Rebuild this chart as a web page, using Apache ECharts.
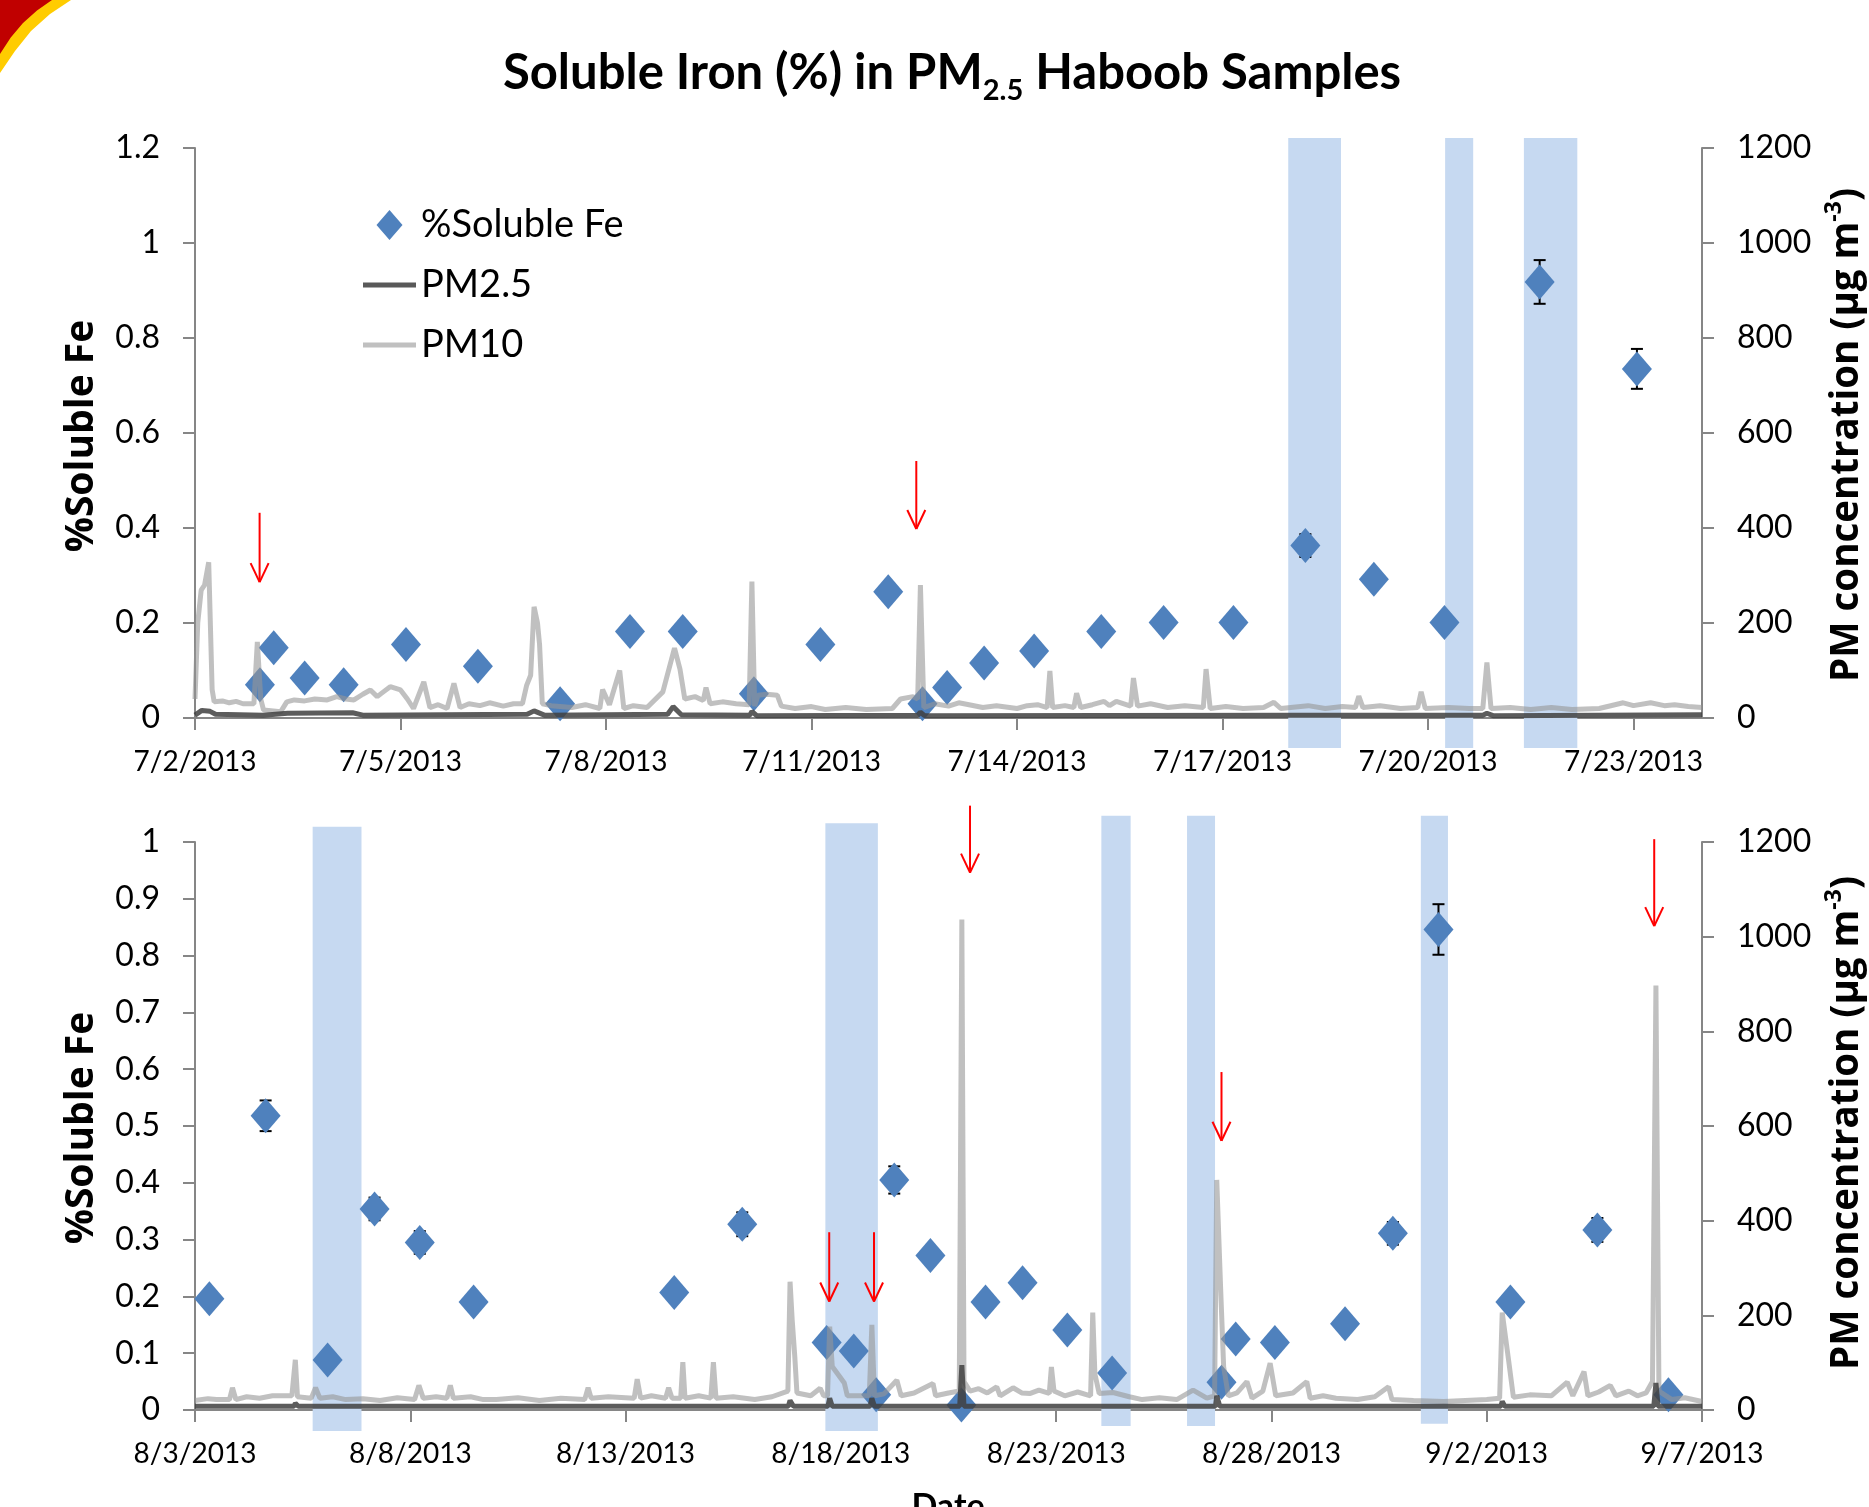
<!DOCTYPE html>
<html><head><meta charset="utf-8">
<script src="https://cdn.jsdelivr.net/npm/echarts@6/dist/echarts.min.js"></script>
<style>html,body{margin:0;padding:0;background:#fff}#c{width:1869px;height:1507px}</style>
</head><body><div id="c"></div>
<script>
// ---------- DATA ----------
const topStart = '2013-07-02T00:00';
const botStart = '2013-08-03T00:00';
const topTickLabels = ['7/2/2013','7/5/2013','7/8/2013','7/11/2013','7/14/2013','7/17/2013','7/20/2013','7/23/2013'];
const botTickLabels = ['8/3/2013','8/8/2013','8/13/2013','8/18/2013','8/23/2013','8/28/2013','9/2/2013','9/7/2013'];

const topSampleTimes = ['2013-07-02T22:45','2013-07-03T03:35','2013-07-03T14:25','2013-07-04T04:05','2013-07-05T01:55','2013-07-06T03:07','2013-07-07T07:55','2013-07-08T08:24','2013-07-09T02:53','2013-07-10T03:50','2013-07-11T03:07','2013-07-12T02:53','2013-07-12T14:53','2013-07-12T23:31','2013-07-13T12:29','2013-07-14T06:00','2013-07-15T05:31','2013-07-16T03:22','2013-07-17T03:50','2013-07-18T05:02','2013-07-19T05:02','2013-07-20T05:46','2013-07-21T15:07','2013-07-23T01:12'];
const topFe =    [0.070,0.148,0.084,0.070,0.155,0.109,0.030,0.182,0.182,0.051,0.155,0.266,0.030,0.064,0.116,0.141,0.182,0.201,0.201,0.363,0.292,0.201,0.918,0.735];
const topFeErr = [0,0,0,0,0,0,0,0,0,0,0,0.015,0,0,0,0,0,0,0,0.024,0,0,0.046,0.042];

const botSampleTimes = ['2013-08-03T08:01','2013-08-04T15:22','2013-08-06T01:55','2013-08-07T04:05','2013-08-08T05:17','2013-08-09T11:17','2013-08-14T03:07','2013-08-15T17:02','2013-08-17T16:05','2013-08-18T07:12','2013-08-18T19:41','2013-08-19T05:46','2013-08-20T01:55','2013-08-20T19:12','2013-08-21T08:38','2013-08-22T05:17','2013-08-23T06:14','2013-08-24T07:12','2013-08-26T20:10','2013-08-27T04:05','2013-08-28T01:55','2013-08-29T17:02','2013-08-30T19:41','2013-08-31T21:07','2013-09-02T13:12','2013-09-04T13:41','2013-09-06T05:17'];
const botFe =    [0.196,0.518,0.088,0.354,0.295,0.190,0.207,0.327,0.119,0.104,0.027,0.405,0.272,0.009,0.190,0.224,0.141,0.065,0.049,0.125,0.119,0.152,0.311,0.846,0.190,0.317,0.027];
const botFeErr = [0,0.027,0,0.02,0.02,0,0,0.021,0,0,0,0.024,0,0,0,0,0,0,0,0,0,0,0.02,0.0445,0,0.021,0];

// haboob shading: [start, end, yLow, yHigh]
const topBands = [['2013-07-17T23:02','2013-07-18T17:31',-0.063,1.221],['2013-07-20T06:00','2013-07-20T15:50',-0.063,1.221],['2013-07-21T09:36','2013-07-22T04:19',-0.063,1.221]];
const botBands = [['2013-08-05T17:35','2013-08-06T20:48',-0.037,1.027],['2013-08-17T15:22','2013-08-18T20:38',-0.037,1.033],['2013-08-24T01:12','2013-08-24T17:31',-0.028,1.046],['2013-08-26T00:58','2013-08-26T16:34',-0.028,1.046],['2013-08-31T11:17','2013-09-01T02:24',-0.024,1.046]];

// red arrows: [time, yFrom, yTo]
const topArrows = [['2013-07-02T22:38',0.432,0.286],['2013-07-12T12:43',0.541,0.398]];
const botArrows = [['2013-08-17T17:31',0.313,0.191],['2013-08-18T18:29',0.313,0.191],['2013-08-21T00:00',1.064,0.946],['2013-08-26T20:10',0.595,0.474],['2013-09-05T21:22',1.005,0.852]];

// PM concentrations [days since start, ug/m3]
const pm10Top = [[0,40],[0.04,200],[0.09,269],[0.14,280],[0.2,328],[0.25,60],[0.28,34],[0.4,36],[0.5,32],[0.6,35],[0.7,30],[0.86,30],[0.91,160],[0.96,40],[1.0,17],[1.25,13],[1.34,34],[1.45,38],[1.6,36],[1.75,40],[1.93,38],[2.07,45],[2.2,40],[2.32,38],[2.45,50],[2.56,59],[2.66,45],[2.75,55],[2.85,66],[3.0,59],[3.1,40],[3.19,20],[3.34,76],[3.43,22],[3.55,28],[3.68,20],[3.78,73],[3.87,22],[4.0,30],[4.16,26],[4.3,32],[4.5,25],[4.65,30],[4.78,30],[4.84,68],[4.9,90],[4.95,234],[5.0,200],[5.03,155],[5.07,30],[5.2,26],[5.5,22],[5.7,28],[5.91,20],[5.95,60],[6.05,28],[6.2,100],[6.26,20],[6.4,26],[6.6,22],[6.83,55],[7.0,147],[7.08,103],[7.15,40],[7.3,45],[7.42,37],[7.46,64],[7.52,30],[7.7,34],[7.9,30],[8.09,28],[8.13,287],[8.17,25],[8.22,48],[8.35,50],[8.5,48],[8.56,25],[8.76,20],[9.0,24],[9.2,18],[9.5,22],[9.8,18],[10.18,20],[10.3,40],[10.48,45],[10.55,40],[10.59,280],[10.64,22],[10.8,30],[11.0,25],[11.15,32],[11.3,28],[11.5,22],[11.7,26],[12.0,20],[12.15,26],[12.3,28],[12.44,22],[12.48,99],[12.52,22],[12.7,26],[12.83,22],[12.87,52],[12.93,22],[13.1,28],[13.27,35],[13.35,26],[13.45,35],[13.66,25],[13.7,84],[13.76,25],[13.95,30],[14.2,22],[14.45,26],[14.72,22],[14.76,103],[14.82,20],[15.05,24],[15.3,20],[15.6,22],[15.75,33],[15.85,20],[16.25,26],[16.5,20],[16.75,24],[16.94,22],[16.99,46],[17.05,22],[17.3,26],[17.6,20],[17.85,22],[17.9,55],[17.96,20],[18.3,22],[18.6,20],[18.8,20],[18.86,117],[18.92,20],[19.2,22],[19.5,18],[19.8,22],[20.1,18],[20.5,20],[20.85,32],[21.0,26],[21.25,32],[21.45,26],[21.6,28],[21.8,24],[22,22]];
const pm25Top = [[0,6],[0.1,16],[0.22,14],[0.3,8],[1.0,6],[1.35,10],[2.3,11],[2.45,6],[4.85,8],[4.95,15],[5.1,6],[6.9,8],[6.98,24],[7.1,7],[8.1,6],[8.13,14],[8.2,5],[10.55,6],[10.59,12],[10.65,5],[16,6],[18.8,6],[18.86,10],[18.95,5],[22,7]];
const pm10Bot = [[0,20],[0.3,24],[0.5,22],[0.8,22],[0.87,47],[0.95,22],[1.2,28],[1.5,25],[1.8,30],[2.25,30],[2.33,106],[2.38,28],[2.7,25],[2.8,47],[2.9,25],[3.2,28],[3.5,22],[3.9,24],[4.3,20],[4.7,26],[5.1,22],[5.2,52],[5.3,25],[5.6,28],[5.85,25],[5.93,52],[6.0,25],[6.4,28],[6.7,22],[7.0,22],[7.5,26],[8.0,20],[8.5,25],[9.05,22],[9.13,47],[9.2,25],[9.6,28],[10.2,25],[10.27,65],[10.35,25],[10.6,30],[10.93,25],[11.0,47],[11.08,25],[11.28,25],[11.33,101],[11.38,25],[11.7,30],[11.98,25],[12.04,101],[12.1,25],[12.5,28],[13.0,22],[13.4,28],[13.77,40],[13.82,271],[13.87,190],[13.93,113],[13.98,36],[14.3,30],[14.52,46],[14.6,30],[14.69,30],[14.74,176],[14.8,92],[15.08,57],[15.15,30],[15.66,30],[15.72,180],[15.78,30],[16.0,34],[16.3,63],[16.4,30],[16.7,36],[17.14,56],[17.2,30],[17.5,36],[17.75,40],[17.81,1036],[17.86,60],[18.0,40],[18.2,45],[18.4,36],[18.62,49],[18.7,30],[19.0,47],[19.2,36],[19.4,35],[19.6,42],[19.84,35],[19.89,91],[19.95,40],[20.2,30],[20.5,38],[20.8,30],[20.85,206],[20.9,76],[21.0,35],[21.32,37],[21.7,28],[22.0,22],[22.4,26],[22.8,22],[23.18,42],[23.5,25],[23.68,30],[23.73,486],[23.82,257],[23.89,91],[24.0,30],[24.2,36],[24.43,60],[24.55,25],[24.8,40],[24.97,99],[25.1,30],[25.5,36],[25.82,60],[25.9,25],[26.2,30],[26.5,25],[27.0,22],[27.4,28],[27.72,49],[27.8,22],[28.3,20],[29.0,18],[29.5,20],[30.0,22],[30.3,25],[30.36,206],[30.5,111],[30.62,27],[31.0,32],[31.5,30],[31.87,59],[32.0,30],[32.26,81],[32.35,30],[32.6,38],[32.87,52],[33.0,30],[33.3,40],[33.5,30],[33.7,36],[33.85,60],[33.93,897],[34.0,40],[34.3,22],[34.6,26],[35,18]];
const pm25Bot = [[0,8],[2.3,8],[2.33,14],[2.4,8],[13.78,8],[13.82,20],[13.9,8],[14.7,8],[14.74,25],[14.8,8],[15.68,8],[15.72,25],[15.78,8],[17.76,8],[17.81,95],[17.86,8],[23.7,8],[23.73,30],[23.8,8],[30.33,8],[30.36,18],[30.42,8],[33.88,8],[33.93,57],[33.98,8],[35,8]];

// ---------- helpers ----------
const dayOff = (t, base) => (Date.parse(t + ':00Z') - Date.parse(base + ':00Z')) / 864e5;
const feData = (times, vals, base) => times.map((t, i) => [dayOff(t, base), vals[i]]);
const errData = (times, vals, errs, base) => times.map((t, i) => [dayOff(t, base), vals[i], errs[i]]);
const bandData = (bands, base) => bands.map(b => [dayOff(b[0], base), dayOff(b[1], base), b[2], b[3]]);
const arrowData = (arr, base) => arr.map(a => [dayOff(a[0], base), a[1], a[2]]);

const FONT = 'Lato';
const TFONT = 'Open Sans';
const AXC = '#868686';
const BLUE = '#4f81bd';

function bandItem(params, api) {
  const p0 = api.coord([api.value(0), api.value(3)]);
  const p1 = api.coord([api.value(1), api.value(2)]);
  return { type: 'rect', shape: { x: p0[0], y: p0[1], width: p1[0] - p0[0], height: p1[1] - p0[1] }, style: { fill: '#c6d9f1' } };
}
function errItem(params, api) {
  const e = api.value(2);
  if (!e) return null;
  const a = api.coord([api.value(0), api.value(1) + e]);
  const b = api.coord([api.value(0), api.value(1) - e]);
  const st = { stroke: '#000', lineWidth: 2 };
  return { type: 'group', children: [
    { type: 'line', shape: { x1: a[0], y1: a[1], x2: b[0], y2: b[1] }, style: st },
    { type: 'line', shape: { x1: a[0] - 6, y1: a[1], x2: a[0] + 6, y2: a[1] }, style: st },
    { type: 'line', shape: { x1: b[0] - 6, y1: b[1], x2: b[0] + 6, y2: b[1] }, style: st }
  ]};
}
function arrowItem(params, api) {
  const a = api.coord([api.value(0), api.value(1)]);
  const b = api.coord([api.value(0), api.value(2)]);
  const st = { stroke: '#ff0000', lineWidth: 2, fill: null };
  return { type: 'group', children: [
    { type: 'line', shape: { x1: a[0], y1: a[1], x2: b[0], y2: b[1] }, style: st },
    { type: 'line', shape: { x1: b[0] - 9, y1: b[1] - 19, x2: b[0], y2: b[1] }, style: st },
    { type: 'line', shape: { x1: b[0] + 9, y1: b[1] - 19, x2: b[0], y2: b[1] }, style: st }
  ]};
}

function xAxisCfg(gi, max, interval, labels) {
  const vals = labels.map((_, i) => i * interval);
  return {
    gridIndex: gi, type: 'value', min: 0, max: max, interval: interval,
    axisLine: { lineStyle: { color: AXC, width: 2 } },
    axisTick: { length: 12, customValues: vals, lineStyle: { color: AXC, width: 2 } },
    axisLabel: { customValues: vals, margin: 30, fontSize: 28, fontFamily: FONT, color: '#000',
      formatter: v => labels[Math.round(v / interval)] || '' },
    splitLine: { show: false }
  };
}
function yAxisCfg(gi, max, interval, pos, dec) {
  return {
    gridIndex: gi, type: 'value', min: 0, max: max, interval: interval, position: pos,
    axisLine: { show: true, lineStyle: { color: AXC, width: 2 } },
    axisTick: { show: true, length: 12, lineStyle: { color: AXC, width: 2 } },
    axisLabel: { margin: 35, fontSize: 32, fontFamily: FONT, color: '#000',
      formatter: v => String(+v.toFixed(dec)) },
    splitLine: { show: false }
  };
}

const pmTitle = (y) => ({ type: 'text', x: 1845, y: y, rotation: Math.PI / 2, z: 10, style: {
  text: '{b|PM concentration (µg m}{p|-3}{b|)}', align: 'center', verticalAlign: 'middle',
  rich: { b: { fontSize: 38.5, fontWeight: 'bold', fontFamily: TFONT, fill: '#000', lineHeight: 44, verticalAlign: 'bottom' },
          p: { fontSize: 23, fontWeight: 'bold', fontFamily: TFONT, fill: '#000', lineHeight: 24, verticalAlign: 'top' } } } });
const feTitle = (y) => ({ type: 'text', x: 82, y: y, rotation: Math.PI / 2, z: 10, style: {
  text: '%Soluble Fe', align: 'center', verticalAlign: 'middle', font: 'bold 39px "Open Sans"', fill: '#000' } });

const chart = echarts.init(document.getElementById('c'), null, { renderer: 'canvas' });

const option = {
  animation: false,
  backgroundColor: '#fff',
  grid: [
    { left: 195, top: 148, width: 1507, height: 570 },
    { left: 195, top: 842, width: 1507, height: 568 }
  ],
  xAxis: [ xAxisCfg(0, 22, 3, topTickLabels), xAxisCfg(1, 35, 5, botTickLabels) ],
  yAxis: [ yAxisCfg(0, 1.2, 0.2, 'left', 1), yAxisCfg(0, 1200, 200, 'right', 0),
           yAxisCfg(1, 1, 0.1, 'left', 1), yAxisCfg(1, 1200, 200, 'right', 0) ],
  legend: {
    left: 363, top: 206, padding: 0, orient: 'vertical', itemWidth: 53, itemHeight: 30, itemGap: 22,
    selectedMode: false, symbolKeepAspect: true,
    textStyle: { fontSize: 38, fontFamily: FONT, color: '#000' },
    data: [
      { name: '%Soluble Fe', icon: 'path://M13 0 L26 15 L13 30 L0 15 Z', itemStyle: { color: BLUE, opacity: 1 } },
      { name: 'PM2.5', icon: 'path://M0 0 H53 V5 H0 Z', itemStyle: { color: '#595959' } },
      { name: 'PM10', icon: 'path://M0 0 H53 V5 H0 Z', itemStyle: { color: '#c0c0c0' } }
    ]
  },
  graphic: [
    { type: 'polygon', shape: { points: [[0,0],[71,0],[50,14],[31,31],[15,51],[0,73]] }, style: { fill: '#ffcc00' }, z: 10 },
    { type: 'polygon', shape: { points: [[0,0],[52,0],[37,10.5],[23,23],[10.75,37.5],[0,54]] }, style: { fill: '#c00000' }, z: 11 },
    { type: 'text', x: 952, y: 77, z: 10, style: {
        text: '{a|Soluble Iron (%) in PM}{s|2.5}{a| Haboob Samples}', align: 'center', verticalAlign: 'middle',
        rich: { a: { fontSize: 49, fontWeight: 'bold', fontFamily: FONT, fill: '#000', lineHeight: 42, verticalAlign: 'top' },
                s: { fontSize: 29, fontWeight: 'bold', fontFamily: FONT, fill: '#000', lineHeight: 56, verticalAlign: 'bottom' } } } },
    feTitle(436), feTitle(1128), pmTitle(435), pmTitle(1123),
    { type: 'text', x: 948, y: 1490, z: 10, style: { text: 'Date', align: 'center', verticalAlign: 'top', font: 'bold 34px Lato', fill: '#000' } }
  ],
  series: [
    { type: 'custom', name: 'bandsTop', xAxisIndex: 0, yAxisIndex: 0, clip: false, z: 1, renderItem: bandItem, data: bandData(topBands, topStart), silent: true },
    { type: 'custom', name: 'bandsBot', xAxisIndex: 1, yAxisIndex: 2, clip: false, z: 1, renderItem: bandItem, data: bandData(botBands, botStart), silent: true },
    { type: 'custom', name: 'errTop', xAxisIndex: 0, yAxisIndex: 0, clip: false, z: 2, renderItem: errItem, data: errData(topSampleTimes, topFe, topFeErr, topStart) },
    { type: 'custom', name: 'errBot', xAxisIndex: 1, yAxisIndex: 2, clip: false, z: 2, renderItem: errItem, data: errData(botSampleTimes, botFe, botFeErr, botStart) },
    { type: 'scatter', name: '%Soluble Fe', xAxisIndex: 0, yAxisIndex: 0, z: 3, symbol: 'diamond', symbolSize: [30, 35], itemStyle: { color: BLUE, opacity: 1 }, data: feData(topSampleTimes, topFe, topStart) },
    { type: 'scatter', name: '%Soluble Fe', xAxisIndex: 1, yAxisIndex: 2, z: 3, symbol: 'diamond', symbolSize: [30, 35], itemStyle: { color: BLUE, opacity: 1 }, data: feData(botSampleTimes, botFe, botStart) },
    { type: 'line', name: 'PM10', xAxisIndex: 0, yAxisIndex: 1, z: 4, symbol: 'none', showSymbol: false, lineStyle: { color: 'rgba(150,150,150,0.6)', width: 5 }, itemStyle: { color: '#c0c0c0' }, data: pm10Top },
    { type: 'line', name: 'PM10', xAxisIndex: 1, yAxisIndex: 3, z: 4, symbol: 'none', showSymbol: false, lineStyle: { color: 'rgba(150,150,150,0.6)', width: 5 }, itemStyle: { color: '#c0c0c0' }, data: pm10Bot },
    { type: 'line', name: 'PM2.5', xAxisIndex: 0, yAxisIndex: 1, z: 5, symbol: 'none', showSymbol: false, lineStyle: { color: 'rgba(64,64,64,0.85)', width: 5 }, itemStyle: { color: '#595959' }, data: pm25Top },
    { type: 'line', name: 'PM2.5', xAxisIndex: 1, yAxisIndex: 3, z: 5, symbol: 'none', showSymbol: false, lineStyle: { color: 'rgba(64,64,64,0.85)', width: 5 }, itemStyle: { color: '#595959' }, data: pm25Bot },
    { type: 'custom', name: 'arrowsTop', xAxisIndex: 0, yAxisIndex: 0, clip: false, z: 6, renderItem: arrowItem, data: arrowData(topArrows, topStart) },
    { type: 'custom', name: 'arrowsBot', xAxisIndex: 1, yAxisIndex: 2, clip: false, z: 6, renderItem: arrowItem, data: arrowData(botArrows, botStart) }
  ]
};
chart.setOption(option);
</script></body></html>
